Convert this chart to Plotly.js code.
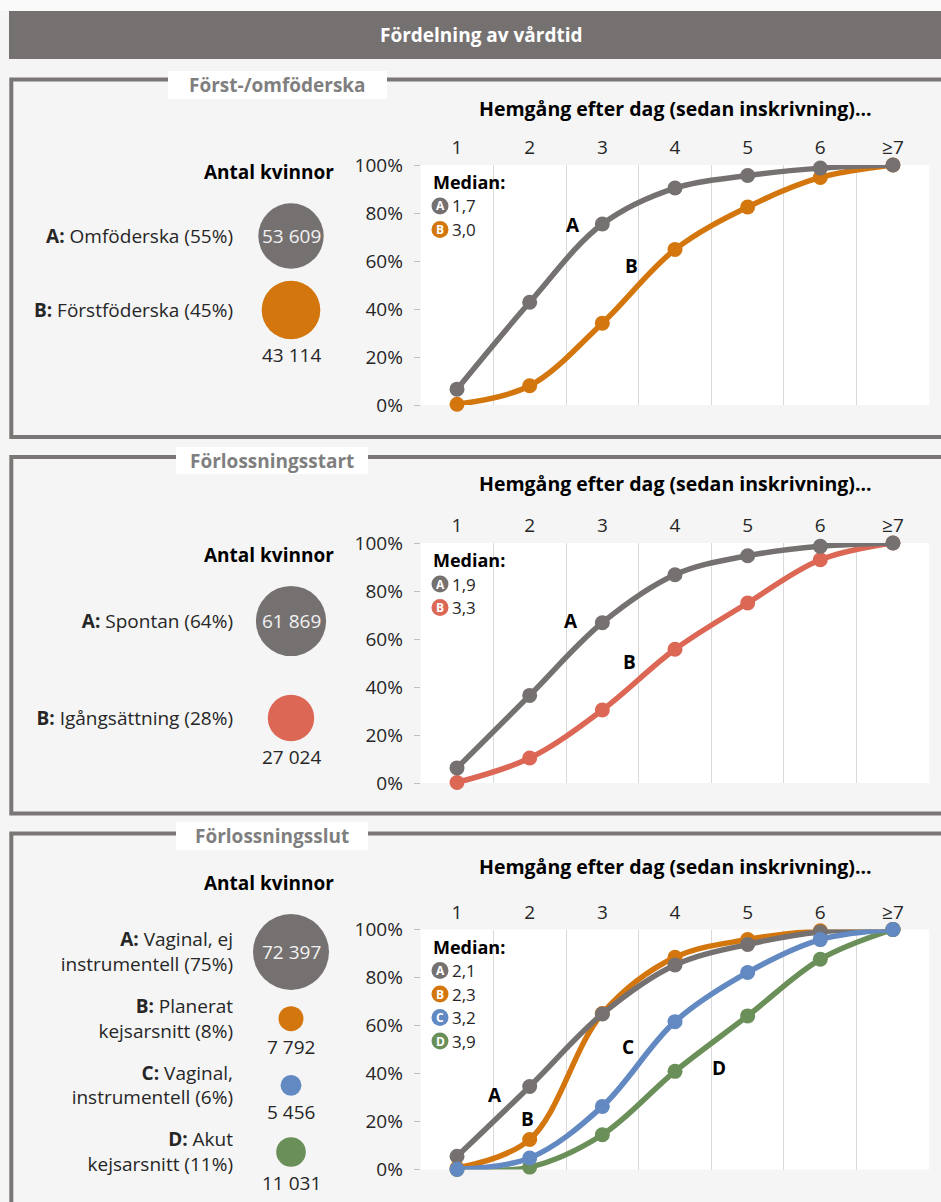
<!DOCTYPE html>
<html><head><meta charset="utf-8">
<script src="https://cdn.plot.ly/plotly-3.0.1.min.js"></script>
<style>html,body{margin:0;padding:0;background:#f5f5f5;}#chart{width:941px;height:1202px;}</style>
</head><body><div id="chart"></div>
<script>
// ---------- data ----------
const days = ["1", "2", "3", "4", "5", "6", "≥7"];

// Panel 1: Först-/omföderska (cumulative share discharged)
const p1A = [0.066, 0.428, 0.754, 0.904, 0.956, 0.987, 1.0];
const p1B = [0.003, 0.080, 0.341, 0.648, 0.825, 0.948, 1.0];
// Panel 2: Förlossningsstart
const p2A = [0.063, 0.365, 0.668, 0.868, 0.947, 0.986, 1.0];
const p2B = [0.002, 0.104, 0.304, 0.557, 0.750, 0.930, 1.0];
// Panel 3: Förlossningsslut
const p3A = [0.055, 0.346, 0.648, 0.852, 0.938, 0.990, 1.0];
const p3B = [0.006, 0.125, 0.650, 0.884, 0.958, 0.995, 1.0];
const p3C = [0.001, 0.048, 0.263, 0.616, 0.821, 0.958, 1.0];
const p3D = [0.000, 0.010, 0.145, 0.409, 0.640, 0.876, 1.0];

const groups1 = ["<b>A:</b> Omföderska (55%)", "<b>B:</b> Förstföderska (45%)"];
const counts1 = [53609, 43114];
const medians1 = ["1,7", "3,0"];

const groups2 = ["<b>A:</b> Spontan (64%)", "<b>B:</b> Igångsättning (28%)"];
const counts2 = [61869, 27024];
const medians2 = ["1,9", "3,3"];

const groups3 = ["<b>A:</b> Vaginal, ej<br>instrumentell (75%)", "<b>B:</b> Planerat<br>kejsarsnitt (8%)",
                 "<b>C:</b> Vaginal,<br>instrumentell (6%)", "<b>D:</b> Akut<br>kejsarsnitt (11%)"];
const counts3 = [72397, 7792, 5456, 11031];
const medians3 = ["2,1", "2,3", "3,2", "3,9"];

const letters = ["A", "B", "C", "D"];
const panelTitles = ["Först-/omföderska", "Förlossningsstart", "Förlossningsslut"];
const mainTitle = "Fördelning av vårdtid";
const xTitle = "Hemgång efter dag (sedan inskrivning)...";
const bubbleTitle = "Antal kvinnor";

// ---------- style ----------
const GRAY = "#767171", ORANGE = "#D4760E", RED = "#DB6754", BLUE = "#6389C2", GREEN = "#6A8F58";
const FONT = "'Open Sans', Lato, sans-serif";
const FS = 19;
const W = 941, H = 1202;
const X = p => p / W, Y = p => 1 - p / H;
const SIZEREF = 25.08;
const radiusOf = v => Math.sqrt(2 * v / SIZEREF) / 2;

const panels = [
  {series: [p1A, p1B], colors: [GRAY, ORANGE], order: [1, 0], medians: medians1, groups: groups1, counts: counts1,
   top: 165, bottom: 405, titleY: 108, antalY: 172, bubbleFirst: 236, bubbleLast: 310,
   frameTop: 79.5, frameBottom: 437, box: [168, 387, 71, 99],
   curveLabels: [["A", 573, 225], ["B", 631, 266]]},
  {series: [p2A, p2B], colors: [GRAY, RED], order: [1, 0], medians: medians2, groups: groups2, counts: counts2,
   top: 543, bottom: 783, titleY: 484, antalY: 555, bubbleFirst: 621, bubbleLast: 718,
   frameTop: 457, frameBottom: 813.5, box: [176, 368, 447, 474],
   curveLabels: [["A", 571, 621], ["B", 629, 662]]},
  {series: [p3A, p3B, p3C, p3D], colors: [GRAY, ORANGE, BLUE, GREEN], order: [1, 0, 3, 2], medians: medians3, groups: groups3, counts: counts3,
   top: 929.5, bottom: 1169.5, titleY: 866, antalY: 883, bubbleFirst: 952, bubbleLast: 1152,
   frameTop: 833.5, frameBottom: 1230, box: [176, 368, 822, 850],
   curveLabels: [["A", 495, 1095], ["B", 527, 1119], ["C", 628, 1047], ["D", 719, 1068]]}
];

const PLOT_L = 420.7, PLOT_R = 929.3;
const BUB_L = 251, BUB_R = 331;
const fmt = v => String(v).replace(/\B(?=(\d{3})+(?!\d))/g, " ");

const data = [];
const layout = {
  width: W, height: H, margin: {l: 0, r: 0, t: 0, b: 0},
  paper_bgcolor: "#f5f5f5", plot_bgcolor: "rgba(0,0,0,0)",
  showlegend: false, font: {family: FONT, color: "#262626"},
  shapes: [], annotations: [], hovermode: false
};
function txt(x, y, text, size, color, xanchor, pad) {
  layout.annotations.push({xref: "paper", yref: "paper", x: X(x), y: Y(y), xanchor: xanchor || "center", yanchor: "middle",
    text: text, showarrow: false, borderpad: pad === undefined ? 1 : pad, font: {size: size, color: color, family: FONT}});
}

// header
layout.shapes.push({type: "rect", xref: "paper", yref: "paper", x0: X(0), x1: X(W), y0: Y(11), y1: Y(0), fillcolor: "#fafafa", line: {width: 0}, layer: "below"});
layout.shapes.push({type: "rect", xref: "paper", yref: "paper", x0: X(9), x1: X(W + 5), y0: Y(59), y1: Y(11), fillcolor: GRAY, line: {width: 0}, layer: "below"});
txt(481, 35, "<b>" + mainTitle + "</b>", FS, "#ffffff");

panels.forEach((p, k) => {
  const n = k + 1;
  const xa = n === 1 ? "x" : "x" + n, ya = n === 1 ? "y" : "y" + n;
  const xb = "x" + (n + 3), yb = "y" + (n + 3);
  const xl = "x" + (n + 6);
  const axKey = a => a.replace("x", "xaxis").replace("y", "yaxis");
  const dom = [Y(p.bottom), Y(p.top)];

  // frame
  const FC = "#7a7676";
  layout.shapes.push({type: "path", xref: "paper", yref: "paper",
    path: `M ${X(W + 10)},${Y(p.frameTop)} L ${X(11.3)},${Y(p.frameTop)} L ${X(11.3)},${Y(p.frameBottom)} L ${X(W + 10)},${Y(p.frameBottom)}`,
    line: {color: FC, width: 4}, layer: "below"});
  const b = p.box;
  layout.shapes.push({type: "rect", xref: "paper", yref: "paper", x0: X(b[0]), x1: X(b[1]), y0: Y(b[3]), y1: Y(b[2]), fillcolor: "#ffffff", line: {width: 0}, layer: "below"});
  txt((b[0] + b[1]) / 2, (b[2] + b[3]) / 2, "<b>" + panelTitles[k] + "</b>", FS, "#7f7f7f");

  // white plot background
  layout.shapes.push({type: "rect", xref: "paper", yref: "paper", x0: X(PLOT_L), x1: X(PLOT_R), y0: dom[0], y1: dom[1], fillcolor: "#ffffff", line: {width: 0}, layer: "below"});

  // line axes
  layout[axKey(xa)] = {domain: [X(PLOT_L), X(PLOT_R)], anchor: ya, type: "category", categoryorder: "array", categoryarray: days,
    side: "top", range: [-0.5, days.length - 0.5], tickson: "boundaries", showgrid: true, gridcolor: "#d9d9d9", gridwidth: 1,
    ticks: "", showline: false, zeroline: false, tickfont: {size: FS, color: "#262626", family: FONT}, ticklabelstandoff: 6, fixedrange: true};
  layout[axKey(ya)] = {domain: dom, anchor: xa, range: [0, 1], tickformat: ".0%", tick0: 0, dtick: 0.2, showgrid: false, zeroline: false,
    showline: false, ticks: "outside", ticklen: 6, tickcolor: "#bfbfbf", tickfont: {size: FS, color: "#262626", family: FONT}, ticklabelstandoff: 7, fixedrange: true};
  layout[axKey(xl)] = {domain: [X(PLOT_L), X(PLOT_R)], anchor: ya, overlaying: xa, side: "bottom", range: [-0.5, days.length - 0.5],
    tickvals: days.map((d, i) => i - 0.5).concat([days.length - 0.5]), showticklabels: false, ticks: "outside", ticklen: 6, tickcolor: "#c8c8c8",
    showline: true, linecolor: "#c8c8c8", linewidth: 1, showgrid: false, zeroline: false, fixedrange: true};

  // series
  p.order.forEach(i => {
    data.push({type: "scatter", mode: "lines+markers", x: days, y: p.series[i], xaxis: xa, yaxis: ya,
      line: {color: p.colors[i], width: 5.5, shape: "spline", smoothing: 1}, marker: {color: p.colors[i], size: 15},
      cliponaxis: false, hoverinfo: "skip"});
  });

  // axis title
  txt((PLOT_L + PLOT_R) / 2, p.titleY, "<b>" + xTitle + "</b>", 19.5, "#000000");

  // median legend
  txt(432, p.top + 17, "<b>Median:</b>", 18, "#000000", "left", 0);
  p.medians.forEach((m, i) => {
    const cy = p.top + 41 + 23.5 * i;
    layout.shapes.push({type: "circle", xref: "paper", yref: "paper", x0: X(431.5), x1: X(448.5), y0: Y(cy + 8.5), y1: Y(cy - 8.5), fillcolor: p.colors[i], line: {width: 0}});
    txt(440, cy, "<b>" + letters[i] + "</b>", 12, "#ffffff", "center", 0);
    txt(451, cy, m, 17, "#262626", "left", 0);
  });

  // curve letters
  p.curveLabels.forEach(c => txt(c[1], c[2], "<b>" + c[0] + "</b>", FS, "#000000"));

  // bubbles
  const nG = p.groups.length;
  const s = (p.bubbleLast - p.bubbleFirst) / (nG - 1);
  layout[axKey(xb)] = {domain: [X(BUB_L), X(BUB_R)], anchor: yb, range: [0, 1], visible: false, fixedrange: true};
  layout[axKey(yb)] = {domain: [Y(p.bubbleLast + s / 2), Y(p.bubbleFirst - s / 2)], anchor: xb, type: "category", categoryorder: "array",
    categoryarray: p.groups, range: [nG - 0.5, -0.5], showgrid: false, zeroline: false, showline: false, ticks: "",
    tickfont: {size: FS, color: "#262626", family: FONT}, ticklabelstandoff: 17, fixedrange: true};
  data.push({type: "scatter", mode: "markers", x: p.groups.map(() => 0.5), y: p.groups, xaxis: xb, yaxis: yb,
    marker: {size: p.counts, sizemode: "area", sizeref: SIZEREF, color: p.colors, opacity: 1, line: {width: 0}}, cliponaxis: false, hoverinfo: "skip"});
  p.counts.forEach((v, i) => {
    layout.annotations.push({xref: xb, yref: yb, x: 0.5, y: p.groups[i], xanchor: "center", yanchor: "middle", text: fmt(v), showarrow: false,
      yshift: i === 0 ? 0 : -(radiusOf(v) + 16), font: {size: FS, color: i === 0 ? "#f2f2f2" : "#262626", family: FONT}});
  });
  txt(336, p.antalY, "<b>" + bubbleTitle + "</b>", FS, "#000000", "right");
});

Plotly.newPlot("chart", data, layout, {staticPlot: true, displayModeBar: false});
</script></body></html>
